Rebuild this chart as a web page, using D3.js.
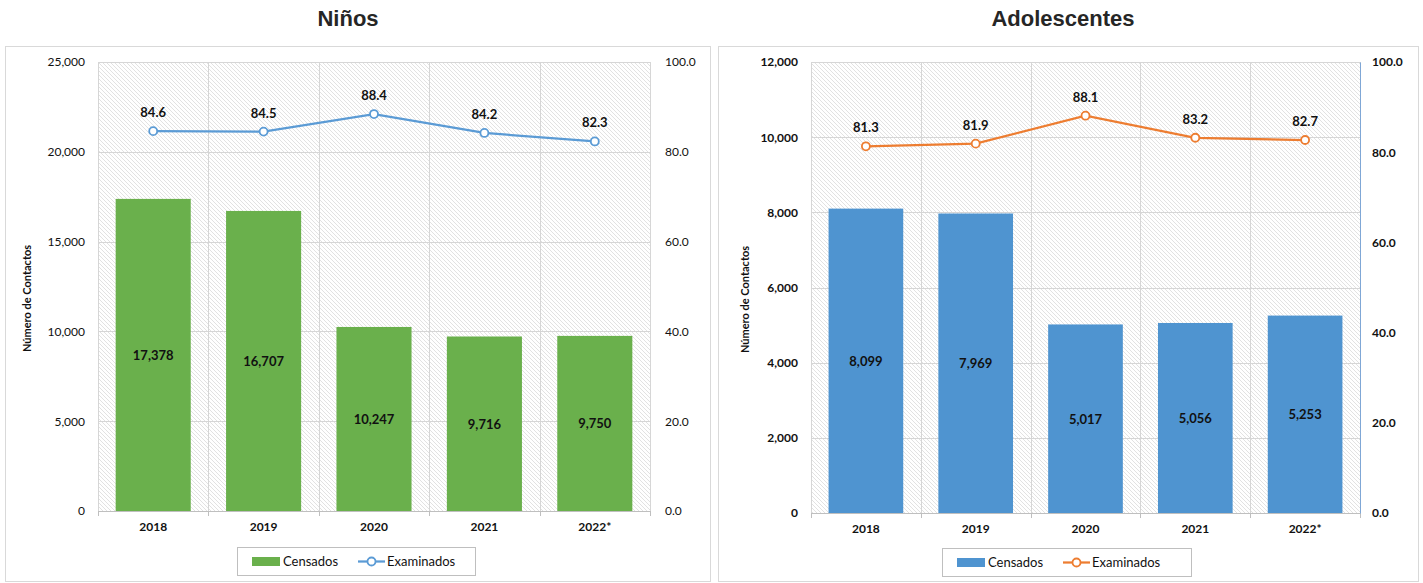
<!DOCTYPE html>
<html>
<head>
<meta charset="utf-8">
<script src="https://cdn.jsdelivr.net/npm/d3@7"></script>
<style>
  html, body { margin: 0; padding: 0; background: #fff; }
  svg { display: block; }
  .t { font-family: "Liberation Sans", Arial, sans-serif; font-weight: bold; }
  .c { font-family: Lato, "Open Sans", sans-serif; }
</style>
</head>
<body>
<svg id="chart" width="1423" height="583"></svg>
<script>
// Years shown on the category axis
const years = ["2018", "2019", "2020", "2021", "2022*"];

// Niños: census counts and percentage examined
const ninosCensados = [17378, 16707, 10247, 9716, 9750];
const ninosExaminados = [84.6, 84.5, 88.4, 84.2, 82.3];
const ninosTicks = [0, 5000, 10000, 15000, 20000, 25000];

// Adolescentes: census counts and percentage examined
const adolCensados = [8099, 7969, 5017, 5056, 5253];
const adolExaminados = [81.3, 81.9, 88.1, 83.2, 82.7];
const adolTicks = [0, 2000, 4000, 6000, 8000, 10000, 12000];

// Secondary axis ticks (percent)
const pctTicks = [0, 20, 40, 60, 80, 100];

const svg = d3.select("#chart");

// Hatched plot-area background
const defs = svg.append("defs");
const pat = defs.append("pattern")
  .attr("id", "hatch").attr("patternUnits", "userSpaceOnUse")
  .attr("width", 4).attr("height", 4);
pat.append("rect").attr("width", 4).attr("height", 4).attr("fill", "#fff");
pat.append("path").attr("d", "M-1,-1 L5,5 M-1,3 L1,5 M3,-1 L5,1")
  .attr("stroke", "#e2e2e2").attr("stroke-width", 1);

const fmtN = d3.format(",");
const fmtP = d3.format(".1f");

function panel(cfg) {
  const g = svg.append("g");
  // outer frame
  g.append("rect").attr("x", cfg.frame[0] + 0.5).attr("y", cfg.frame[1] + 0.5)
    .attr("width", cfg.frame[2]).attr("height", cfg.frame[3])
    .attr("fill", "#fff").attr("stroke", "#d9d9d9");
  // title
  g.append("text").attr("class", "t").attr("x", cfg.titleX).attr("y", 26)
    .attr("text-anchor", "middle").attr("font-size", 22).attr("fill", "#262626")
    .text(cfg.title);

  const x = d3.scaleBand().domain(years).range([cfg.x0, cfg.x1]).paddingInner(0).paddingOuter(0);
  const y = d3.scaleLinear().domain([0, cfg.yMax]).range([cfg.y1, cfg.y0]);
  const y2 = d3.scaleLinear().domain([0, 100]).range([cfg.y1, cfg.y0]);

  // plot area
  g.append("rect").attr("x", cfg.x0).attr("y", cfg.y0)
    .attr("width", cfg.x1 - cfg.x0).attr("height", cfg.y1 - cfg.y0)
    .attr("fill", "url(#hatch)");

  // gridlines
  g.append("g").selectAll("line").data(cfg.ticks.filter(d => d > 0)).join("line")
    .attr("x1", cfg.x0).attr("x2", cfg.x1)
    .attr("y1", d => Math.round(y(d)) + 0.5).attr("y2", d => Math.round(y(d)) + 0.5)
    .attr("stroke", "#d6d6d6");
  g.append("g").selectAll("line").data(years.concat(["end"])).join("line")
    .attr("x1", (d, i) => Math.round(cfg.x0 + i * x.bandwidth()) + 0.5)
    .attr("x2", (d, i) => Math.round(cfg.x0 + i * x.bandwidth()) + 0.5)
    .attr("y1", cfg.y0).attr("y2", cfg.y1)
    .attr("stroke", "#d6d6d6");

  // bars
  const bw = x.bandwidth() * 0.68;
  g.append("g").selectAll("rect").data(cfg.bars).join("rect")
    .attr("x", (d, i) => x(years[i]) + (x.bandwidth() - bw) / 2)
    .attr("width", bw)
    .attr("y", d => y(d)).attr("height", d => y(0) - y(d))
    .attr("fill", cfg.barColor);

  // bar value labels (centred in bar)
  g.append("g").selectAll("text").data(cfg.bars).join("text")
    .attr("class", "c").attr("font-weight", "bold").attr("font-size", 13).attr("fill", "#111")
    .attr("x", (d, i) => x(years[i]) + x.bandwidth() / 2)
    .attr("y", d => (y(d) + y(0)) / 2 + 5)
    .attr("text-anchor", "middle")
    .text(d => fmtN(d));

  // x axis
  const xa = g.append("g").attr("transform", `translate(0,${cfg.y1})`)
    .call(d3.axisBottom(x).tickSize(0).tickPadding(11));
  xa.select(".domain").attr("stroke", "#bfbfbf");
  xa.selectAll("text").attr("class", "c").attr("font-weight", "bold").attr("font-size", 12).attr("fill", "#111");
  xa.append("g").selectAll("line").data(years.concat(["end"])).join("line")
    .attr("x1", (d, i) => Math.round(cfg.x0 + i * x.bandwidth()) + 0.5)
    .attr("x2", (d, i) => Math.round(cfg.x0 + i * x.bandwidth()) + 0.5)
    .attr("y1", 0).attr("y2", 5).attr("stroke", "#bfbfbf");

  // left axis
  const ya = g.append("g").attr("transform", `translate(${cfg.x0 - 13},0)`)
    .call(d3.axisLeft(y).tickValues(cfg.ticks).tickFormat(fmtN).tickSize(0).tickPadding(0));
  ya.select(".domain").remove();
  ya.selectAll("text").attr("class", "c").attr("font-size", 12).attr("fill", "#111")
    .attr("font-weight", cfg.boldTicks ? "bold" : "normal");

  // right axis
  const ya2 = g.append("g").attr("transform", `translate(${cfg.x1},0)`)
    .call(d3.axisRight(y2).tickValues(pctTicks).tickFormat(fmtP).tickSize(0).tickPadding(cfg.rightPad));
  ya2.select(".domain").attr("stroke", cfg.rightAxisColor);
  ya2.selectAll("text").attr("class", "c").attr("font-size", 12).attr("fill", "#111")
    .attr("font-weight", cfg.boldTicks ? "bold" : "normal");

  // axis title
  g.append("text").attr("class", "c").attr("font-weight", "bold").attr("font-size", 11).attr("fill", "#111")
    .attr("transform", `translate(${cfg.titleYx},${(cfg.y0 + cfg.y1) / 2 + 12}) rotate(-90)`)
    .attr("text-anchor", "middle").text("Número de Contactos");

  // line series
  const line = d3.line().x((d, i) => x(years[i]) + x.bandwidth() / 2).y(d => y2(d));
  g.append("path").datum(cfg.line).attr("d", line)
    .attr("fill", "none").attr("stroke", cfg.lineColor).attr("stroke-width", 2.25);
  g.append("g").selectAll("circle").data(cfg.line).join("circle")
    .attr("cx", (d, i) => x(years[i]) + x.bandwidth() / 2).attr("cy", d => y2(d))
    .attr("r", 4).attr("fill", "#fff").attr("stroke", cfg.lineColor).attr("stroke-width", 1.8);
  g.append("g").selectAll("text").data(cfg.line).join("text")
    .attr("class", "c").attr("font-weight", "bold").attr("font-size", 13).attr("fill", "#111")
    .attr("x", (d, i) => x(years[i]) + x.bandwidth() / 2).attr("y", d => y2(d) - 14)
    .attr("text-anchor", "middle").text(d => fmtP(d));

  // legend
  const L = cfg.legend;
  const lg = g.append("g").attr("transform", `translate(${L[0]},${L[1]})`);
  lg.append("rect").attr("x", 0.5).attr("y", 0.5).attr("width", L[2]).attr("height", 28)
    .attr("fill", "#fff").attr("stroke", "#bfbfbf");
  lg.append("rect").attr("x", 15).attr("y", 10).attr("width", 28).attr("height", 9).attr("fill", cfg.barColor);
  lg.append("text").attr("class", "c").attr("font-size", 13).attr("fill", "#111")
    .attr("x", 46).attr("y", 19).text("Censados");
  lg.append("line").attr("x1", 121).attr("x2", 148).attr("y1", 14.5).attr("y2", 14.5)
    .attr("stroke", cfg.lineColor).attr("stroke-width", 2.25);
  lg.append("circle").attr("cx", 134.5).attr("cy", 14.5).attr("r", 4)
    .attr("fill", "#fff").attr("stroke", cfg.lineColor).attr("stroke-width", 1.8);
  lg.append("text").attr("class", "c").attr("font-size", 13).attr("fill", "#111")
    .attr("x", 150).attr("y", 19).text("Examinados");
}

panel({
  title: "Niños", titleX: 348,
  frame: [5, 46, 705, 535],
  x0: 98, x1: 650, y0: 62, y1: 511,
  yMax: 25000, ticks: ninosTicks,
  bars: ninosCensados, line: ninosExaminados,
  barColor: "#6ab04c", lineColor: "#5b9bd5",
  rightAxisColor: "none", rightPad: 15, boldTicks: false,
  titleYx: 31, legend: [237, 547, 238]
});

panel({
  title: "Adolescentes", titleX: 1063,
  frame: [718, 46, 700, 535],
  x0: 811, x1: 1360, y0: 62, y1: 513,
  yMax: 12000, ticks: adolTicks,
  bars: adolCensados, line: adolExaminados,
  barColor: "#4f94d0", lineColor: "#ed7d31",
  rightAxisColor: "#7fa7d6", rightPad: 12, boldTicks: true,
  titleYx: 749, legend: [942, 548, 249]
});
</script>
</body>
</html>
